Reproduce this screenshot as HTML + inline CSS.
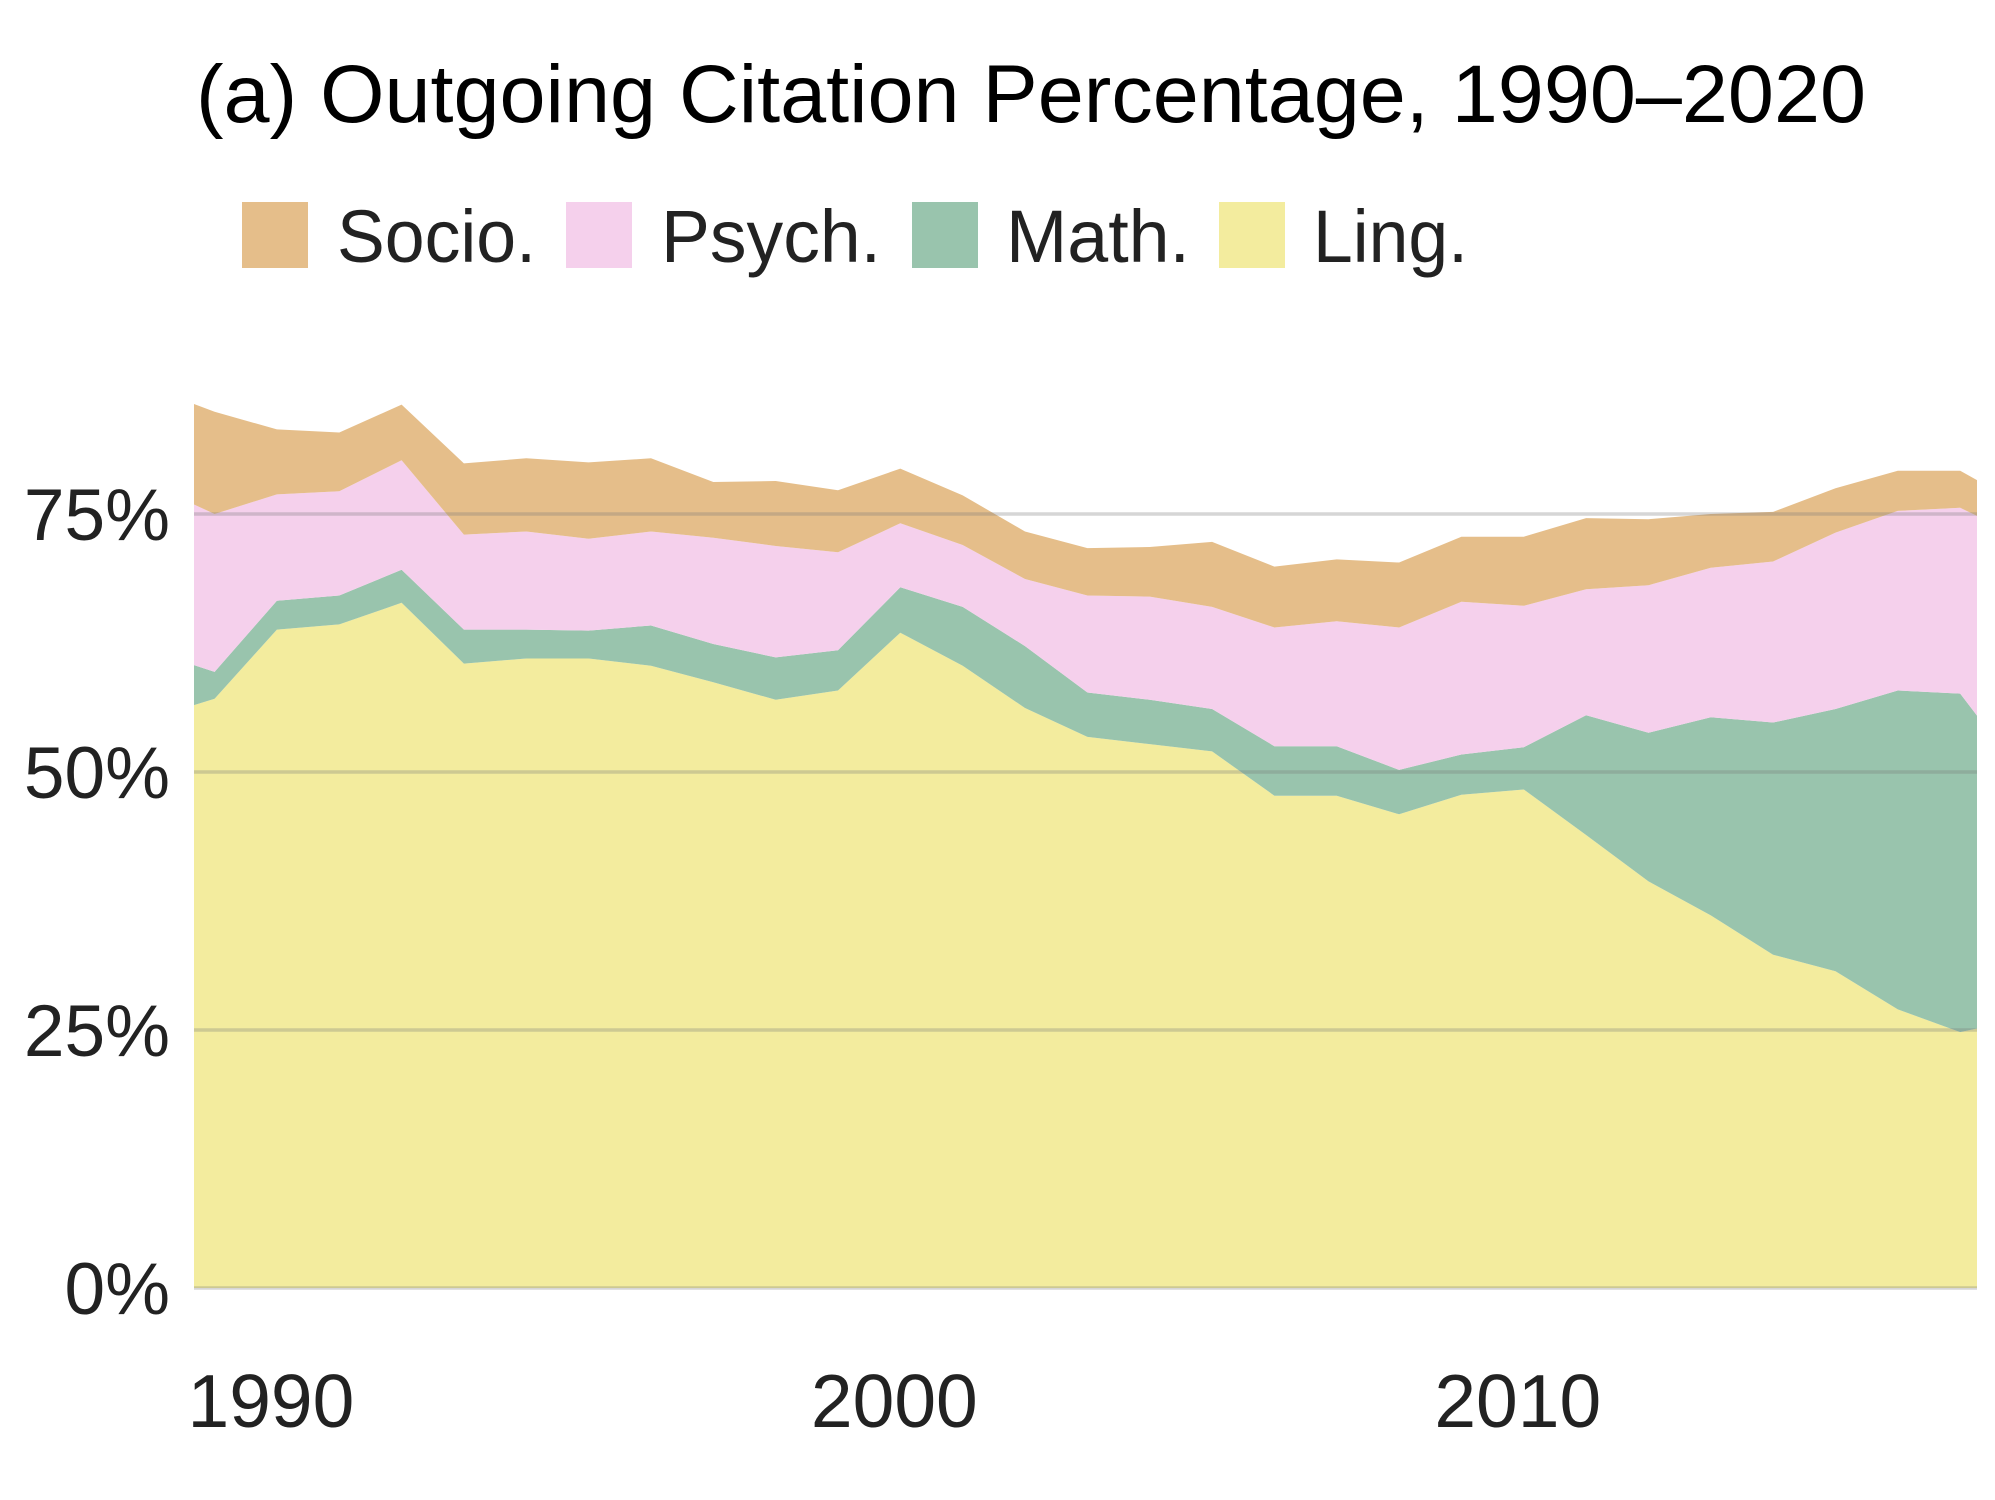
<!DOCTYPE html>
<html><head><meta charset="utf-8"><style>
html,body{margin:0;padding:0;background:#fff;}
svg{display:block;font-family:"Liberation Sans",Arial,sans-serif;}
</style></head><body>
<svg id="chart" width="1995" height="1500" viewBox="0 0 1995 1500">
<text x="196" y="122" font-size="82" fill="#000" textLength="1670" lengthAdjust="spacingAndGlyphs">(a) Outgoing Citation Percentage, 1990–2020</text>
<g>
<rect x="242" y="202" width="66" height="66" fill="#e5be8a"/>
<text x="337" y="262" font-size="74" fill="#222" textLength="199" lengthAdjust="spacingAndGlyphs">Socio.</text>
<rect x="566" y="202" width="66" height="66" fill="#f5d0ec"/>
<text x="661" y="262" font-size="74" fill="#222" textLength="220" lengthAdjust="spacingAndGlyphs">Psych.</text>
<rect x="912" y="202" width="66" height="66" fill="#99c4ad"/>
<text x="1006" y="262" font-size="74" fill="#222" textLength="184" lengthAdjust="spacingAndGlyphs">Math.</text>
<rect x="1219" y="202" width="66" height="66" fill="#f3ec9e"/>
<text x="1313" y="262" font-size="74" fill="#222" textLength="155" lengthAdjust="spacingAndGlyphs">Ling.</text>
</g>
<defs><clipPath id="plotclip"><rect x="194" y="300" width="1783" height="990"/></clipPath></defs>
<g id="areas" clip-path="url(#plotclip)"></g>
<g id="grid"></g>
<g id="yaxis"></g>
<g id="xaxis"></g>
</svg>
<script>
const years = [1988,1989,1990,1991,1992,1993,1994,1995,1996,1997,1998,1999,2000,2001,2002,2003,2004,2005,2006,2007,2008,2009,2010,2011,2012,2013,2014,2015,2016,2017,2018];
const ling = [55.2,57.1,63.8,64.3,66.4,60.5,61.0,61.0,60.3,58.7,57.0,57.9,63.5,60.3,56.2,53.4,52.7,52.0,47.7,47.7,45.9,47.8,48.3,43.9,39.4,36.1,32.3,30.7,27.0,24.8,26.1];
const math = [6.5,2.6,2.8,2.8,3.2,3.3,2.8,2.7,3.9,3.7,4.1,3.9,4.4,5.7,6.0,4.3,4.3,4.1,4.8,4.8,4.3,3.9,4.1,11.6,14.4,19.2,22.5,25.4,30.9,32.8,23.6];
const psych = [16.1,15.3,10.3,10.1,10.6,9.2,9.5,8.9,9.1,10.3,10.8,9.5,6.2,6.0,6.5,9.4,10.0,9.9,11.5,12.1,13.8,14.8,13.7,12.2,14.3,14.5,15.6,17.1,17.4,18.0,23.0];
const socio = [9.4,9.9,6.3,5.7,5.4,6.9,7.1,7.4,7.1,5.4,6.3,6.0,5.3,4.8,4.6,4.6,4.8,6.3,5.9,6.0,6.3,6.3,6.7,6.9,6.4,5.2,4.8,4.3,3.9,3.6,3.1];
const yTicks = [0,25,50,75];
const yTickLabels = ["0%","25%","50%","75%"];
const xTicks = [1990,2000,2010];
const xTickLabels = ["1990","2000","2010"];

const NS = "http://www.w3.org/2000/svg";
const X0 = 194, X1 = 1977, YR0 = 1988.67, YR1 = 2017.27;
const PY0 = 1288, PPER = 10.32;
function xs(yr){ return X0 + (yr - YR0) / (YR1 - YR0) * (X1 - X0); }
function ys(v){ return PY0 - v * PPER; }

const series = [
  {name:"ling", vals:ling, color:"#f3ec9e"},
  {name:"math", vals:math, color:"#99c4ad"},
  {name:"psych", vals:psych, color:"#f5d0ec"},
  {name:"socio", vals:socio, color:"#e5be8a"}
];
const areas = document.getElementById('areas');
let base = years.map(()=>0);
series.forEach(s=>{
  const top = base.map((b,i)=>b + s.vals[i]);
  let d = "";
  years.forEach((yr,i)=>{ d += (i? "L":"M") + xs(yr).toFixed(1) + "," + ys(top[i]).toFixed(1); });
  for (let i = years.length-1; i>=0; i--) d += "L" + xs(years[i]).toFixed(1) + "," + ys(base[i]).toFixed(1);
  d += "Z";
  const p = document.createElementNS(NS,'path');
  p.setAttribute('d', d);
  p.setAttribute('fill', s.color);
  
  
  areas.appendChild(p);
  base = top;
});

const grid = document.getElementById('grid');
const yaxis = document.getElementById('yaxis');
yTicks.forEach((v,i)=>{
  const l = document.createElementNS(NS,'line');
  l.setAttribute('x1', X0); l.setAttribute('x2', X1);
  l.setAttribute('y1', ys(v)); l.setAttribute('y2', ys(v));
  l.setAttribute('stroke', 'rgba(120,120,120,0.3)');
  l.setAttribute('stroke-width', '3.5');
  
  
  grid.appendChild(l);
  const t = document.createElementNS(NS,'text');
  t.setAttribute('x', 170); t.setAttribute('y', ys(v) + 26);
  t.setAttribute('text-anchor', 'end');
  t.setAttribute('font-size', '73');
  t.setAttribute('fill', '#222');
  t.textContent = yTickLabels[i];
  
  
  yaxis.appendChild(t);
});
const xaxis = document.getElementById('xaxis');
xTicks.forEach((yr,i)=>{
  const t = document.createElementNS(NS,'text');
  t.setAttribute('x', xs(yr) - 6); t.setAttribute('y', 1427);
  t.setAttribute('text-anchor', 'middle');
  t.setAttribute('font-size', '75');
  t.setAttribute('fill', '#222');
  t.textContent = xTickLabels[i];
  
  
  xaxis.appendChild(t);
});
</script>
</body></html>
